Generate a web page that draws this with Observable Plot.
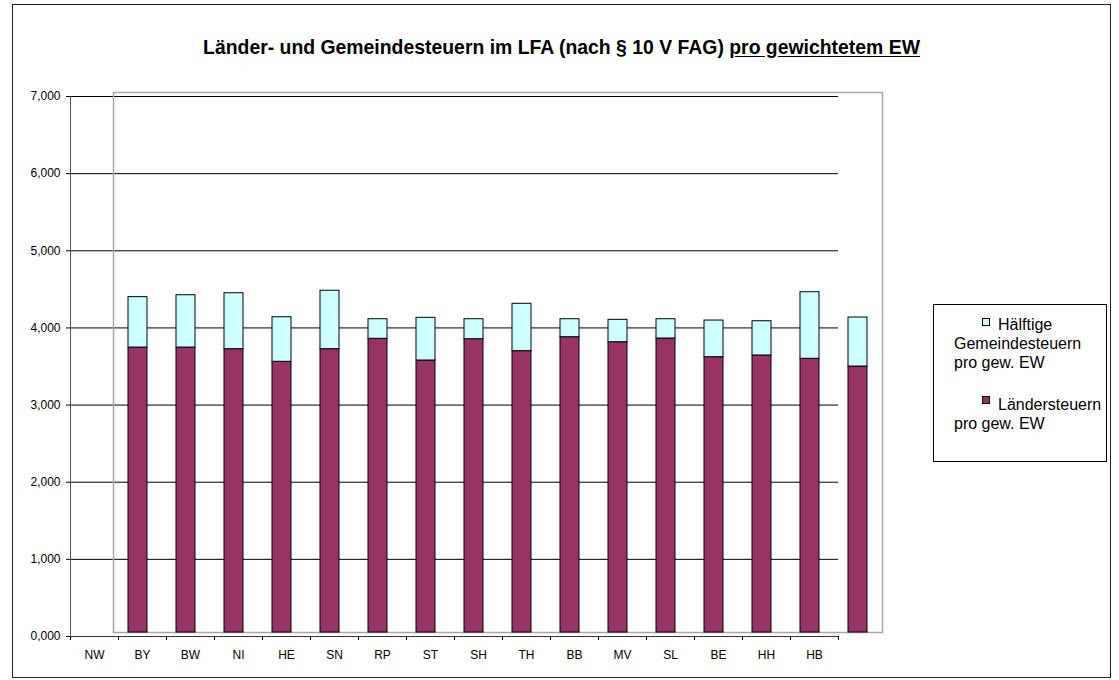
<!DOCTYPE html>
<html>
<head>
<meta charset="utf-8">
<script src="https://cdn.jsdelivr.net/npm/d3@7"></script>
<script src="https://cdn.jsdelivr.net/npm/@observablehq/plot@0.6"></script>
<style>
  html, body { margin: 0; padding: 0; background: #fff; }
  #wrap { position: relative; width: 1119px; height: 680px; overflow: hidden;
          font-family: "Liberation Sans", Arial, sans-serif; }
  #wrap svg { position: absolute; left: 0; top: 0; }
  #border { position: absolute; left: 12px; top: 4px; width: 1099px; height: 674px;
            border: 1.5px solid #222; box-sizing: border-box; }
  #title { position: absolute; left: 0; width: 1123px; top: 38px; text-align: center;
           font-weight: bold; font-size: 19.4px; line-height: 19px; color: #000; white-space: nowrap; }
  #title u { text-decoration: underline; text-underline-offset: 2px; }
  #legend { position: absolute; left: 933px; top: 304px; width: 174px; height: 158px;
            border: 1px solid #000; box-sizing: border-box; background: #fff; }
  .ln { position: absolute; font-size: 16px; line-height: 16px; color: #000; white-space: nowrap; }
  .sw { position: absolute; width: 8px; height: 8px; border: 1px solid #000; box-sizing: border-box; }
</style>
</head>
<body>
<div id="wrap">
  <div id="border"></div>
</div>
<script>
// ---- data ----
const categories = ["NW","BY","BW","NI","HE","SN","RP","ST","SH","TH","BB","MV","SL","BE","HH","HB"];
const laenderSteuern = [3694, 3694, 3673, 3509, 3673, 3807, 3526, 3802, 3647, 3828, 3763, 3811, 3569, 3591, 3548, 3448];
const gemeindeSteuernHalb = [653, 678, 725, 578, 757, 254, 553, 259, 614, 233, 290, 250, 475, 444, 863, 635];
const yTicks = [0, 1000, 2000, 3000, 4000, 5000, 6000, 7000];
const yTickLabels = ["0,000","1,000","2,000","3,000","4,000","5,000","6,000","7,000"];
const seriesNames = ["Hälftige Gemeindesteuern pro gew. EW", "Ländersteuern pro gew. EW"];
const colorLaender = "#993366";
const colorGemeinde = "#ccffff";

const rows = [];
categories.forEach((c, i) => {
  rows.push({cat: c, series: seriesNames[1], value: laenderSteuern[i], ord: 0});
  rows.push({cat: c, series: seriesNames[0], value: gemeindeSteuernHalb[i], ord: 1});
});
const idx = categories.map((c, i) => i);

const W = 1119, H = 680;
const font = {background: "transparent", fontFamily: "'Liberation Sans', Arial, sans-serif", fontSize: "12px", color: "#000", overflow: "visible"};

// Axis / grid layer
const axes = Plot.plot({
  width: W, height: H,
  marginLeft: 70, marginRight: W - 838, marginTop: 96, marginBottom: H - 636,
  style: font,
  x: {type: "linear", domain: [0, categories.length], axis: null},
  y: {domain: [0, 7000], axis: null},
  marks: [
    Plot.gridY({ticks: yTicks, stroke: "#000", strokeOpacity: 1, strokeWidth: 1}),
    Plot.axisY({ticks: yTicks, tickFormat: d => yTickLabels[yTicks.indexOf(d)], tickSize: 4, tickPadding: 6, label: null, fontSize: 12}),
    Plot.axisX({ticks: d3.range(categories.length + 1), tickFormat: () => "", tickSize: 4, label: null}),
    Plot.ruleX([0], {stroke: "#555", strokeWidth: 1}),
    Plot.ruleY([0], {stroke: "#333", strokeWidth: 1}),
    Plot.text(idx, {x: i => i + 0.5, y: 0, dy: 19, text: i => categories[i], fontSize: 12, fill: "#000"})
  ]
});

// Bar layer (second plot area, grey frame)
const bars = Plot.plot({
  width: W, height: H,
  marginLeft: 113, marginRight: W - 882, marginTop: 92, marginBottom: H - 632,
  style: font,
  x: {domain: categories, paddingInner: 0.6, paddingOuter: 0.3, axis: null},
  y: {domain: [0, 7000], axis: null},
  color: {domain: seriesNames, range: [colorGemeinde, colorLaender]},
  marks: [
    Plot.frame({stroke: "#a6a6a6", strokeWidth: 1.5}),
    Plot.barY(rows, Plot.stackY({x: "cat", y: "value", fill: "series", order: "ord", stroke: "#000", strokeWidth: 1}))
  ]
});

const wrap = document.getElementById("wrap");
wrap.appendChild(axes);
wrap.appendChild(bars);

// Title
const title = document.createElement("div");
title.id = "title";
title.innerHTML = "Länder- und Gemeindesteuern im LFA (nach § 10 V FAG) <u>pro gewichtetem EW</u>";
wrap.appendChild(title);

// Legend
const legend = document.createElement("div");
legend.id = "legend";
const L = 933, T = 304;
function line(text, x, baseline) {
  const d = document.createElement("div");
  d.className = "ln";
  d.textContent = text;
  d.style.left = (x - L - 1) + "px";
  d.style.top = (baseline - 13.5 - T - 1) + "px";
  legend.appendChild(d);
}
function swatch(color, x, y) {
  const s = document.createElement("div");
  s.className = "sw";
  s.style.background = color;
  s.style.left = (x - L - 1) + "px";
  s.style.top = (y - T - 1) + "px";
  legend.appendChild(s);
}
swatch(colorGemeinde, 982, 318);
line("Hälftige", 998, 330);
line("Gemeindesteuern", 954, 349);
line("pro gew. EW", 954, 368);
swatch(colorLaender, 982, 396);
line("Ländersteuern", 998, 410);
line("pro gew. EW", 954, 429);
wrap.appendChild(legend);
</script>
</body>
</html>
